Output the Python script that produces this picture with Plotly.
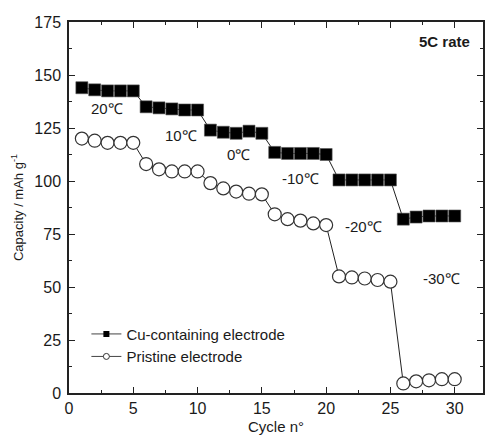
import plotly.graph_objects as go

cycles = list(range(1, 31))
cu_capacity = [144, 143, 142.5, 142.5, 142.5,
               135, 134.5, 134, 133.5, 133.5,
               124, 123, 122.5, 123.5, 122.5,
               113.5, 113, 113, 113, 112.5,
               100.5, 100.5, 100.5, 100.5, 100.5,
               82, 83, 83.5, 83.5, 83.5]
pristine_capacity = [120, 119, 118, 118, 118,
                     108, 105.5, 104.5, 104.5, 104.5,
                     99, 96.5, 95, 94, 93.7,
                     84.3, 82, 81.3, 80, 79.2,
                     55, 54.5, 54, 53.3, 52.5,
                     4.5, 5.5, 6, 6.5, 6.5]

temp_labels = ["20℃", "10℃", "0℃", "-10℃", "-20℃", "-30℃"]
temp_label_x = [2.95, 8.7, 13.2, 18.0, 22.9, 29.0]
temp_label_y = [134.4, 121.7, 112.3, 101.3, 78.5, 53.8]

FONT = "Liberation Sans, Arial, sans-serif"
INK = "#1a1a1a"

fig = go.Figure()
fig.add_trace(go.Scatter(
    x=cycles, y=cu_capacity, mode="lines+markers", showlegend=False,
    line=dict(color="#222", width=1),
    marker=dict(symbol="square", size=12, color="#000", line=dict(width=0.6, color="#555")),
))
fig.add_trace(go.Scatter(
    x=cycles, y=pristine_capacity, mode="lines+markers", showlegend=False,
    line=dict(color="#222", width=1),
    marker=dict(symbol="circle", size=13, color="white", line=dict(width=1.2, color="#333")),
))
# legend entries (small symbols as in the reference)
fig.add_trace(go.Scatter(
    x=[None], y=[None], mode="lines+markers", name="Cu-containing electrode",
    line=dict(color="#444", width=1), marker=dict(symbol="square", size=6, color="#000"),
))
fig.add_trace(go.Scatter(
    x=[None], y=[None], mode="lines+markers", name="Pristine electrode",
    line=dict(color="#444", width=1),
    marker=dict(symbol="circle", size=6, color="white", line=dict(width=1, color="#333")),
))

for t, tx, ty in zip(temp_labels, temp_label_x, temp_label_y):
    fig.add_annotation(x=tx, y=ty, text=t, showarrow=False,
                       font=dict(family=FONT, size=15, color=INK))
fig.add_annotation(x=29.2, y=165.6, text="<b>5C rate</b>", showarrow=False,
                   font=dict(family=FONT, size=15, color=INK))

axis_common = dict(
    showline=True, linecolor="#222", linewidth=1.5, mirror="allticks",
    ticks="inside", ticklen=6, tickwidth=1, tickcolor="#222",
    showgrid=False, zeroline=False, automargin=False,
    tickfont=dict(family=FONT, size=16, color=INK),
)

fig.update_xaxes(
    range=[0, 32.2], tick0=0, dtick=5,
    minor=dict(ticks="inside", ticklen=3.5, dtick=2.5, tickcolor="#222", showgrid=False),
    title=dict(text="Cycle n°", font=dict(family=FONT, size=15, color=INK), standoff=6),
    **axis_common,
)
fig.update_yaxes(
    range=[0, 175], tick0=0, dtick=25,
    minor=dict(ticks="inside", ticklen=3.5, dtick=12.5, tickcolor="#222", showgrid=False),
    title=dict(text="Capacity / mAh g<sup>-1</sup>", font=dict(family=FONT, size=13, color=INK), standoff=8),
    ticklabelstandoff=3,
    **axis_common,
)

fig.update_layout(
    width=486, height=437,
    margin=dict(l=69, r=3, t=22, b=44, autoexpand=False),
    paper_bgcolor="white", plot_bgcolor="white",
    legend=dict(x=0.042, y=0.203, xanchor="left", yanchor="top",
                bgcolor="rgba(0,0,0,0)", borderwidth=0,
                font=dict(family=FONT, size=15, color=INK),
                tracegroupgap=0, itemsizing="trace"),
)

fig.write_html("out.html")
